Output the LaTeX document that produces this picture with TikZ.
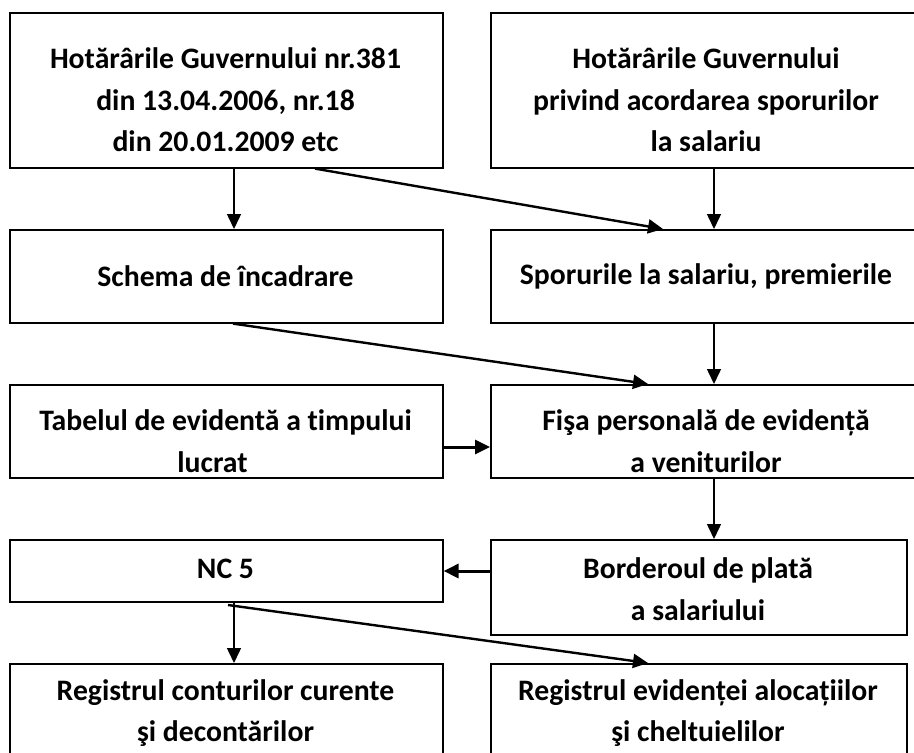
\documentclass[tikz,border=0pt]{standalone}
\usepackage{fontspec}
\setmainfont{Carlito}[Ligatures=NoCommon]
\usetikzlibrary{arrows.meta}
\tikzset{
  box/.style={draw=black, line width=1.6pt, rectangle, inner sep=0pt, anchor=north west},
  txt/.style={align=center, inner sep=0pt, font=\fontsize{29.7}{41.5}\selectfont\bfseries},
  tip/.style={-{Triangle[length=15pt,width=14pt]}},
  thin/.style={tip, line width=1.5pt},
  mid/.style={tip, line width=2.4pt},
  thick/.style={tip, line width=3pt},
}
\begin{document}
\begin{tikzpicture}[x=1pt,y=-1pt]
\clip (0,0) rectangle (914,753);
\fill[white] (0,0) rectangle (914,753);
% boxes
\node[box, minimum width=433pt, minimum height=155pt] (A) at (9,12) {};
\node[box, minimum width=432pt, minimum height=155pt] (B) at (490,12) {};
\node[box, minimum width=433pt, minimum height=93pt] (C) at (9,229) {};
\node[box, minimum width=432pt, minimum height=93pt] (D) at (490,229) {};
\node[box, minimum width=433pt, minimum height=93pt] (E) at (9,384) {};
\node[box, minimum width=432pt, minimum height=93pt] (F) at (490,384) {};
\node[box, minimum width=433pt, minimum height=62pt] (G) at (9,539) {};
\node[box, minimum width=416pt, minimum height=95pt] (H) at (490,539) {};
\node[box, minimum width=433pt, minimum height=110pt] (I) at (9,663) {};
\node[box, minimum width=416pt, minimum height=110pt] (J) at (490,663) {};
% texts
\node[txt] (At) at (225.5,100) {Hotărârile Guvernului nr.381\\din 13.04.2006, nr.18\\din 20.01.2009 etc};
\node[txt] (Bt) at (706,100) {Hotărârile Guvernului\\privind acordarea sporurilor\\la salariu};
\node[txt] (Ct) at (225.5,276) {Schema de încadrare};
\node[txt] (Dt) at (706,276) {Sporurile la salariu, premierile};
\node[txt] (Et) at (225.5,441) {Tabelul de evidentă a timpului\\lucrat\hspace*{26pt}};
\node[txt] (Ft) at (706,441) {Fişa personală de evidență\\a veniturilor};
\node[txt] (Gt) at (225.5,569) {NC 5};
\node[txt] (Ht) at (698,589) {Borderoul de plată\\a salariului};
\node[txt] (It) at (225.5,713) {Registrul conturilor curente\\şi decontărilor};
\node[txt] (Jt) at (698,713) {Registrul evidenței alocațiilor\\şi cheltuielilor};
% connectors
\draw[thin] (234,0 |- A.south) -- (234,0 |- C.north);
\draw[mid] (315,0 |- A.south) -- (663,0 |- D.north);
\draw[thin] (714,0 |- B.south) -- (714,0 |- D.north);
\draw[mid] (233,0 |- C.south) -- (648,0 |- F.north);
\draw[thin] (714,0 |- D.south) -- (714,0 |- F.north);
\draw[thick] (E.east |- 0,447) -- (F.west |- 0,447);
\draw[thin] (714,0 |- F.south) -- (714,0 |- H.north);
\draw[thick] (H.west |- 0,571) -- (G.east |- 0,571);
\draw[thin] (234,0 |- G.south) -- (234,0 |- I.north);
\draw[mid] (228,605) -- (648,0 |- J.north);
\end{tikzpicture}
\end{document}
